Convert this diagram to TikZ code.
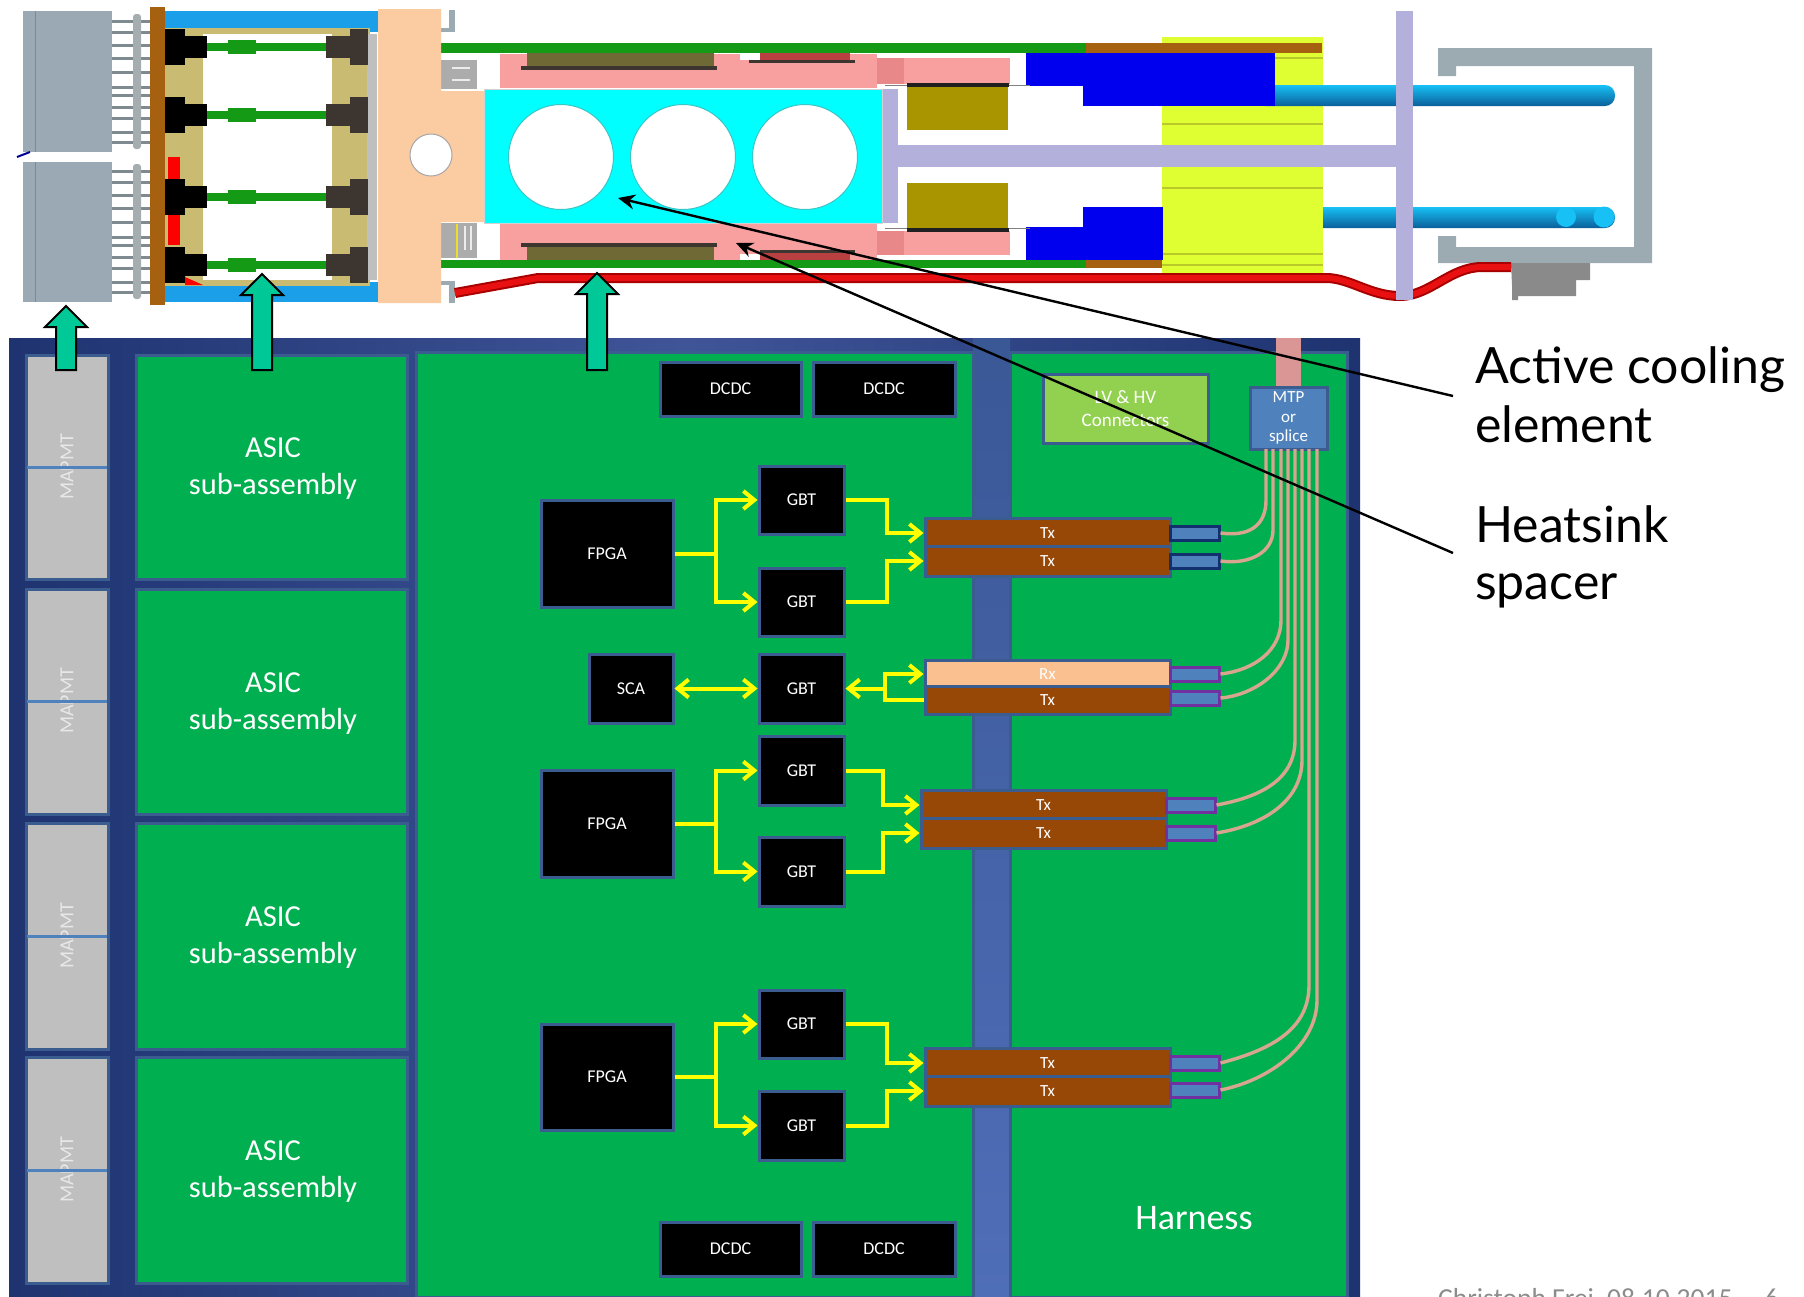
\documentclass[tikz,border=0pt]{standalone}
\usepackage{fontspec}
\setmainfont{Carlito}
\newfontfamily\lblfont{Lato}
\usetikzlibrary{arrows.meta}
\definecolor{bd}{HTML}{3B5C8E}
\definecolor{grn}{HTML}{00B050}
\definecolor{gry}{HTML}{BFBFBF}
\definecolor{navyA}{HTML}{1E3370}
\definecolor{navyB}{HTML}{3F5598}
\definecolor{barA}{HTML}{3A5796}
\definecolor{barB}{HTML}{4F6EB8}
\definecolor{brn}{HTML}{984806}
\definecolor{rxc}{HTML}{FAC090}
\definecolor{conn}{HTML}{4F81BD}
\definecolor{cnavy}{HTML}{12306E}
\definecolor{cpurp}{HTML}{7030A0}
\definecolor{fib}{HTML}{D8A58F}
\definecolor{trunk}{HTML}{D99694}
\definecolor{lvg}{HTML}{92D050}
\definecolor{yel}{HTML}{FFFF00}
\definecolor{blkarrow}{HTML}{00C896}
\definecolor{pmt}{HTML}{9AA9B3}
\definecolor{pinc}{HTML}{7F8A90}
\definecolor{wood}{HTML}{A5610F}
\definecolor{sky}{HTML}{1A9FE8}
\definecolor{khaki}{HTML}{C9BB72}
\definecolor{pcbg}{HTML}{159A15}
\definecolor{darkc}{HTML}{3D3630}
\definecolor{peach}{HTML}{FBCBA2}
\definecolor{pinkc}{HTML}{F8A0A0}
\definecolor{pinkd}{HTML}{E88888}
\definecolor{olivd}{HTML}{6F6A35}
\definecolor{redb}{HTML}{B94040}
\definecolor{lav}{HTML}{B4B0DC}
\definecolor{gold}{HTML}{A89500}
\definecolor{blueb}{HTML}{0000EE}
\definecolor{lime}{HTML}{DFFF33}
\definecolor{limel}{HTML}{B9C92A}
\definecolor{tubeA}{HTML}{17C0F5}
\definecolor{tubeB}{HTML}{0A5F9A}
\definecolor{cgrey}{HTML}{9CAAB2}
\definecolor{clipc}{HTML}{8A8A8A}
\definecolor{foot}{HTML}{8C8C8C}
\definecolor{redd}{HTML}{A80000}
\definecolor{redl}{HTML}{E81010}
\definecolor{pmtt}{HTML}{E8E8E8}
\definecolor{aqua}{HTML}{00FFFF}
\newcommand\bx[7][]{\node[#1,minimum width={(#5-#3)*1pt},minimum height={(#6-#4)*1pt}] (#2) at ({(#3+#5)/2},{(#4+#6)/2}) {#7};}
\newcommand\rr[5]{\fill[#1] (#2,#3) rectangle (#4,#5);}
\tikzset{
  panel/.style={draw=bd,line width=3pt,inner sep=0pt,text=white,align=center},
  pmtbox/.style={panel,fill=gry},
  asicbox/.style={panel,fill=grn},
  asictext/.style={inner sep=0pt,text=white,align=center,font=\fontsize{30.5}{37}\selectfont},
  chip/.style={panel,fill=black,font=\fontsize{18}{22}\selectfont},
  txbox/.style={panel,fill=brn,font=\fontsize{17}{20}\selectfont},
  rxbox/.style={txbox,fill=rxc},
  cnA/.style={draw=cnavy,fill=conn,line width=3pt,inner sep=0pt},
  cnB/.style={cnA,draw=cpurp},
  ya/.style={draw=yel,line width=4pt,line join=miter},
  yarrow/.style={ya,-{Straight Barb[length=11pt,width=18pt,line width=4pt]}},
  ybi/.style={ya,{Straight Barb[length=11pt,width=18pt,line width=4pt]}-{Straight Barb[length=11pt,width=18pt,line width=4pt]}},
  fibre/.style={draw=fib,line width=3.4pt},
  uparrow/.style={draw=black,line width=2pt,fill=blkarrow,line join=miter},
  leader/.style={draw=black,line width=2.4pt,-{Stealth[length=17pt,width=15pt]}},
  bigtext/.style={anchor=base west,inner sep=0pt,font=\lblfont\fontsize{50}{52}\selectfont},
  pmtlabel/.style={rotate=90,text=pmtt,inner sep=0pt,font=\fontsize{20}{22}\selectfont}
}
\begin{document}
\begin{tikzpicture}[x=1pt,y=-1pt]
\useasboundingbox (0,0) rectangle (1804,1296);
\fill[white] (0,0) rectangle (1804,1296);

% ---------- top cross-section ----------
\foreach \o in {0,150}{
  \foreach \y in {21,32,45,58,72,87,95,107,118,132,142}{
    \draw[pinc,line width=3pt] (112,\y+\o) -- (150,\y+\o);
  }
  \fill[pinc!70!white,rounded corners=3pt] (133,14+\o) rectangle (141,149+\o);
}
\rr{pmt}{23}{11}{112}{152}
\rr{pmt}{23}{162}{112}{302}
\draw[pinc,line width=1pt] (35,11)--(35,152) (35,162)--(35,302);
\draw[blue!60!black,line width=2pt] (17,157)--(30,152);
\rr{sky}{165}{11}{378}{32}
\rr{sky}{165}{282}{378}{302}
\rr{khaki}{165}{28}{203}{286}
\rr{khaki}{332}{28}{370}{286}
\rr{khaki}{203}{28}{332}{34}
\rr{khaki}{203}{280}{332}{286}
\rr{red}{168}{157}{180}{245}
\fill[red] (185,277)--(203,285)--(185,285)--cycle;
\rr{gry}{367}{34}{377}{280}
\foreach \y/\h in {47/18,115/18,197/18,265/18}{
  \rr{pcbg}{205}{\y-4}{330}{\y+4}
  \rr{pcbg}{228}{\y-7}{256}{\y+7}
  \rr{black}{165}{\y-18}{185}{\y+18}
  \rr{black}{185}{\y-11}{207}{\y+11}
  \rr{darkc}{326}{\y-11}{350}{\y+11}
  \rr{darkc}{350}{\y-18}{368}{\y+18}
}
\rr{wood}{150}{7}{165}{305}
\rr{cgrey}{441}{10}{455}{32}
\rr{white}{441}{10}{449}{28}
\rr{cgrey}{441}{281}{455}{303}
\rr{white}{441}{285}{449}{303}
\rr{pinkc}{500}{54}{877}{88}
\rr{pinkc}{500}{224}{877}{260}
\rr{pinkc}{877}{58}{1010}{84}
\rr{pinkc}{877}{231}{1010}{255}
\rr{pinkd}{877}{58}{904}{84}
\rr{pinkd}{877}{231}{904}{255}
\rr{white}{740}{53}{760}{60}
\rr{white}{740}{254}{760}{261}
\rr{olivd}{527}{53}{714}{67}
\rr{olivd}{527}{246}{714}{260}
\rr{darkc}{521}{66}{717}{70}
\rr{darkc}{521}{243}{717}{247}
\rr{redb}{760}{53}{850}{61}
\rr{redb}{760}{252}{850}{260}
\rr{darkc}{749}{60}{855}{63}
\rr{darkc}{760}{250}{855}{253}
\rr{pcbg}{441}{43}{1086}{53}
\rr{pcbg}{441}{260}{1086}{268}
\rr{gry!70!gray}{441}{60}{477}{89}
\rr{gry!70!gray}{441}{223}{477}{258}
\draw[white!85!gray,line width=2pt] (452,68)--(470,68) (452,80)--(470,80);
\draw[yellow!80!gray,line width=2pt] (457,224)--(457,258);
\draw[white!85!gray,line width=2pt] (465,226)--(465,250) (471,226)--(471,250);
\fill[peach] (378,9)--(441,9)--(441,91)--(484,91)--(484,222)--(441,222)--(441,303)--(378,303)--cycle;
\fill[white,draw=gray!70,line width=1pt] (431,155) circle (21);
\fill[aqua,draw=gray!35,line width=1pt] (484,89) rectangle (882,223);
\foreach \x in {561,683,805}{\fill[white,draw=aqua!55!gray,line width=1pt] (\x,157) circle (52.5);}
\shade[top color=tubeA,bottom color=tubeB,rounded corners=10pt] (1305,207) rectangle (1615,228);
\rr{lime}{1162}{37}{1323}{275}
\foreach \y in {58,124,188,254,265}{\draw[limel,line width=1.5pt] (1162,\y)--(1323,\y);}
\rr{wood}{1086}{43}{1322}{53}
\rr{wood}{1086}{260}{1162}{268}
\shade[top color=tubeA,bottom color=tubeB,rounded corners=10pt] (1255,85) rectangle (1615,106);
\rr{blueb}{1026}{53}{1086}{86}
\rr{blueb}{1026}{227}{1086}{260}
\rr{blueb}{1083}{53}{1275}{106}
\rr{blueb}{1083}{207}{1163}{260}
\rr{gold}{907}{86}{1008}{130}
\rr{gold}{907}{183}{1008}{230}
\draw[gray,line width=1pt] (885,85)--(1030,85) (885,228)--(1030,228);
\rr{black!75!gray}{907}{83}{1009}{87}
\rr{black!75!gray}{907}{228}{1009}{232}
\fill[tubeA] (1566,217) circle (10);
\fill[tubeA] (1604,217) circle (10.5);
\fill[cgrey] (1438,48)--(1652,48)--(1652,263)--(1438,263)--(1438,236)--(1456,236)--(1456,247)--(1634,247)--(1634,66)--(1456,66)--(1456,76)--(1438,76)--cycle;
\fill[clipc] (1511,263)--(1590,263)--(1590,280)--(1576,280)--(1576,296)--(1518,296)--(1518,300)--(1512,300)--(1512,285)--cycle;
\draw[redd,line width=10pt,line join=round] (455,293)--(538,278)--(1326,278) .. controls (1350,278) and (1370,296) .. (1400,296) .. controls (1430,296) and (1450,267) .. (1482,267)--(1511,267);
\draw[redl,line width=6pt,line join=round] (455,293)--(538,278)--(1326,278) .. controls (1350,278) and (1370,296) .. (1400,296) .. controls (1430,296) and (1450,267) .. (1482,267)--(1511,267);
\rr{lav}{883}{89}{898}{223}
\rr{lav}{897}{145}{1400}{167}
\rr{lav}{1396}{11}{1413}{300}

% ---------- board ----------
\shade[left color=navyA,right color=navyA,middle color=navyB] (9,338) rectangle (1360,1296);
\shade[top color=barA,bottom color=barB] (973,338) rectangle (1010,1296);
\bx[panel,fill=grn]{mainp}{416}{352}{973}{1297}{}
\bx[panel,fill=grn]{harn}{1010}{352}{1347}{1297}{}

\bx[pmtbox]{p1}{26}{355}{108}{579}{\phantom{x}}
\bx[pmtbox]{p2}{26}{589}{108}{814}{\phantom{x}}
\bx[pmtbox]{p3}{26}{823}{108}{1049}{\phantom{x}}
\bx[pmtbox]{p4}{26}{1057}{108}{1283}{\phantom{x}}
\foreach \n/\y in {a/467,b/701,c/936,d/1170}{
  \node[pmtlabel] (lab\n) at (67,\y) {MAPMT};
  \draw[conn,line width=3pt] (27,\y)--(107,\y);
}
\bx[asicbox]{a1}{136}{355}{407}{579}{}
\bx[asicbox]{a2}{136}{589}{407}{814}{}
\bx[asicbox]{a3}{136}{823}{407}{1049}{}
\bx[asicbox]{a4}{136}{1057}{407}{1283}{}
\node[asictext] (ta1) at (273,469) {ASIC\\sub-assembly};
\node[asictext] (ta2) at (273,704) {ASIC\\sub-assembly};
\node[asictext] (ta3) at (273,938) {ASIC\\sub-assembly};
\node[asictext] (ta4) at (273,1172) {ASIC\\sub-assembly};

\bx[chip]{d1}{660}{362}{801}{416}{DCDC}
\bx[chip]{d2}{813}{362}{955}{416}{DCDC}
\bx[chip]{d3}{660}{1222}{801}{1276}{DCDC}
\bx[chip]{d4}{813}{1222}{955}{1276}{DCDC}

\bx[panel,fill=lvg,font=\fontsize{19}{23}\selectfont]{lv}{1043}{374}{1208}{443}{LV \& HV\\Connectors}
\fill[trunk] (1276,338) rectangle (1301,388);
\bx[panel,fill=conn,font=\fontsize{17}{19.5}\selectfont]{mtp}{1250}{387}{1327}{449}{MTP\\or\\splice}

\bx[chip]{f1}{541}{500}{673}{607}{FPGA}
\bx[chip]{f2}{541}{770}{673}{877}{FPGA}
\bx[chip]{f3}{541}{1024}{673}{1130}{FPGA}
\bx[chip]{sca}{589}{654}{673}{723}{SCA}
\bx[chip]{g1}{759}{466}{844}{534}{GBT}
\bx[chip]{g2}{759}{568}{844}{636}{GBT}
\bx[chip]{g3}{759}{654}{844}{723}{GBT}
\bx[chip]{g4}{759}{736}{844}{805}{GBT}
\bx[chip]{g5}{759}{837}{844}{906}{GBT}
\bx[chip]{g6}{759}{990}{844}{1058}{GBT}
\bx[chip]{g7}{759}{1091}{844}{1160}{GBT}

\bx[txbox]{t1}{925}{518}{1170}{548}{Tx}
\bx[txbox]{t2}{925}{546}{1170}{576}{Tx}
\bx[rxbox]{t3}{925}{660}{1170}{688}{Rx}
\bx[txbox]{t4}{925}{686}{1170}{714}{Tx}
\bx[txbox]{t5}{921}{790}{1166}{820}{Tx}
\bx[txbox]{t6}{921}{818}{1166}{848}{Tx}
\bx[txbox]{t7}{925}{1048}{1170}{1078}{Tx}
\bx[txbox]{t8}{925}{1076}{1170}{1106}{Tx}

\bx[cnA]{c1}{1170}{526}{1219}{540}{}
\bx[cnA]{c2}{1170}{554}{1219}{568}{}
\bx[cnB]{c3}{1170}{667}{1219}{681}{}
\bx[cnB]{c4}{1170}{691}{1219}{705}{}
\bx[cnB]{c5}{1166}{798}{1215}{812}{}
\bx[cnB]{c6}{1166}{826}{1215}{840}{}
\bx[cnB]{c7}{1170}{1056}{1219}{1070}{}
\bx[cnB]{c8}{1170}{1083}{1219}{1097}{}

% fibres
\coordinate (m1) at (1266,449); \coordinate (m2) at (1273,449);
\coordinate (m3) at (1281,449); \coordinate (m4) at (1288,449);
\coordinate (m5) at (1295,449); \coordinate (m6) at (1302,449);
\coordinate (m7) at (1309,449); \coordinate (m8) at (1317,449);
\draw[fibre] (m1)--(1266,500) .. controls (1266,525) and (1250,537) .. (c1.east);
\draw[fibre] (m2)--(1273,530) .. controls (1273,552) and (1250,565) .. (c2.east);
\draw[fibre] (m3)--(1281,620) .. controls (1281,650) and (1255,670) .. (c3.east);
\draw[fibre] (m4)--(1288,640) .. controls (1288,670) and (1255,695) .. (c4.east);
\draw[fibre] (m5)--(1295,740) .. controls (1295,780) and (1260,797) .. (c5.east);
\draw[fibre] (m6)--(1302,760) .. controls (1302,800) and (1265,825) .. (c6.east);
\draw[fibre] (m7)--(1309,985) .. controls (1309,1030) and (1270,1050) .. (c7.east);
\draw[fibre] (m8)--(1317,1000) .. controls (1317,1045) and (1270,1080) .. (c8.east);

% yellow signals
\coordinate (j1) at (716,553.5); \coordinate (j2) at (716,823.5); \coordinate (j3) at (716,1077);
\draw[ya] (f1.east)--(j1);
\draw[yarrow] (j1) |- (g1.west);
\draw[yarrow] (j1) |- (g2.west);
\draw[ya] (f2.east)--(j2);
\draw[yarrow] (j2) |- (g4.west);
\draw[yarrow] (j2) |- (g5.west);
\draw[ya] (f3.east)--(j3);
\draw[yarrow] (j3) |- (g6.west);
\draw[yarrow] (j3) |- (g7.west);
\draw[ybi] (sca.east)--(g3.west);
\draw[yarrow] (g1.east) -- ++(41,0) |- (t1.west);
\draw[yarrow] (g2.east) -- ++(41,0) |- (t2.west);
\draw[yarrow] (g4.east) -- ++(37,0) |- (t5.west);
\draw[yarrow] (g5.east) -- ++(37,0) |- (t6.west);
\draw[yarrow] (g6.east) -- ++(41,0) |- (t7.west);
\draw[yarrow] (g7.east) -- ++(41,0) |- (t8.west);
\coordinate (j4) at (885,688.5);
\draw[yarrow] (j4)--(g3.east);
\draw[yarrow] (j4) |- (t3.west);
\draw[ya] (j4) |- (t4.west);

\node[text=white,inner sep=0pt,font=\fontsize{36}{40}\selectfont] (hl) at (1194,1218) {Harness};

% block arrows
\foreach \c/\t in {66/306,262/274,597/273}{
  \draw[uparrow] (\c,\t)--(\c+21,\t+21)--(\c+10,\t+21)--(\c+10,370)--(\c-10,370)--(\c-10,\t+21)--(\c-21,\t+21)--cycle;
}

% callouts
\coordinate (tipA) at (618,198); \coordinate (tipB) at (736,243);
\coordinate (endA) at (1453,396); \coordinate (endB) at (1453,553);
\draw[leader] (endA)--(tipA);
\draw[leader] (endB)--(tipB);
\node[bigtext] (l1) at (1475,383) {Active cooling};
\node[bigtext] (l2) at (1475,442) {element};
\node[bigtext] (l3) at (1475,542) {Heatsink};
\node[bigtext] (l4) at (1475,599) {spacer};
\node[anchor=base west,inner sep=0pt,text=foot,font=\fontsize{27.5}{30}\selectfont] (ft) at (1438,1307) {Christoph Frei,\ 08.10.2015\hspace{32pt}6};
\end{tikzpicture}
\end{document}
